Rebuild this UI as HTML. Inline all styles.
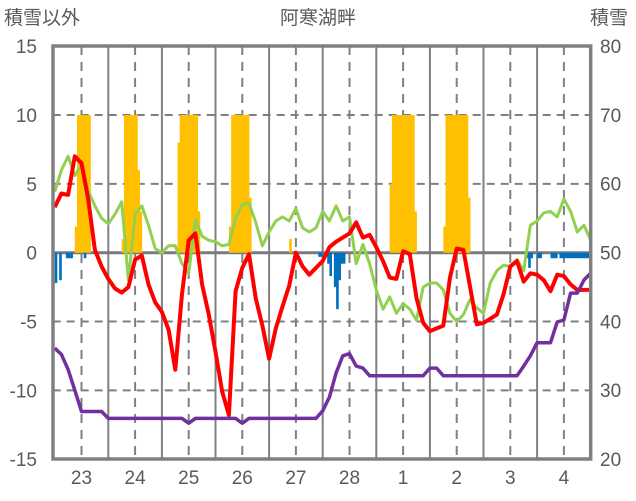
<!DOCTYPE html>
<html><head><meta charset="utf-8"><style>
html,body{margin:0;padding:0;background:#fff;}
svg{display:block;font-family:"Liberation Sans","Noto Sans CJK JP",sans-serif;}
</style></head><body>
<svg id="chart" width="636" height="501" viewBox="0 0 636 501">
<g id="grid"></g>
<g id="bars"></g>
<g id="lines"></g>
<g id="frame"></g>
<g id="labels" fill="#595959" font-size="19"></g>
<text x="42" y="24" text-anchor="middle" fill="#595959" font-size="19">積雪以外</text>
<text x="318" y="24" text-anchor="middle" fill="#595959" font-size="19">阿寒湖畔</text>
<text x="609" y="24" text-anchor="middle" fill="#595959" font-size="19">積雪</text>
</svg>
<script>
const days = ["23","24","25","26","27","28","1","2","3","4"];
const leftTicks = [15,10,5,0,-5,-10,-15];
const rightTicks = [80,70,60,50,40,30,20];
// 3-hourly series (h = 0,3,...,240)
const redVals = [3.3,4.3,4.2,7.0,6.5,3.9,0.2,-1.0,-1.9,-2.6,-2.9,-2.5,-0.5,-0.2,-2.3,-3.6,-4.3,-5.6,-8.5,-3.0,0.9,1.4,-2.3,-4.5,-7.2,-10.1,-11.8,-2.8,-1.1,-0.1,-3.3,-5.3,-7.7,-5.5,-3.9,-2.4,0.0,-1.0,-1.6,-1.1,-0.6,0.4,0.8,1.1,1.4,2.2,1.1,1.3,0.4,-0.6,-1.8,-1.9,0.1,-0.1,-3.3,-5.1,-5.7,-5.5,-5.3,-1.8,0.3,0.2,-2.5,-5.2,-5.1,-4.8,-4.5,-3.0,-1.0,-0.6,-2.1,-1.5,-1.6,-2.0,-2.8,-1.6,-1.7,-2.3,-2.7,-2.7,-2.7];
const greenVals = [4.4,6.0,7.0,5.6,6.4,4.5,3.4,2.5,2.1,2.8,3.7,-2.0,2.8,3.4,2.0,0.3,0.0,0.5,0.5,-0.8,-1.5,2.4,1.2,0.9,0.8,0.5,0.6,2.5,3.5,3.6,2.2,0.5,1.5,2.3,2.6,2.3,3.2,1.8,1.5,1.8,3.0,2.3,3.4,2.3,2.6,-0.8,0.6,-0.8,-2.7,-4.1,-3.2,-4.4,-3.7,-4.1,-4.9,-2.5,-2.2,-2.2,-2.7,-4.4,-5.0,-4.5,-3.4,-4.0,-4.4,-2.2,-1.3,-0.9,-1.0,-0.5,-1.3,2.0,2.3,2.9,3.0,2.6,3.9,3.0,1.5,2.0,0.9];
const snowVals = [36.1,35.2,33.0,30.0,26.9,26.9,26.9,26.9,25.9,25.9,25.9,25.9,25.9,25.9,25.9,25.9,25.9,25.9,25.9,25.9,25.2,25.9,25.9,25.9,25.9,25.9,25.9,25.9,25.2,25.9,25.9,25.9,25.9,25.9,25.9,25.9,25.9,25.9,25.9,25.9,27.0,29.0,32.5,35.0,35.3,33.5,33.2,32.1,32.1,32.1,32.1,32.1,32.1,32.1,32.1,32.1,33.2,33.2,32.1,32.1,32.1,32.1,32.1,32.1,32.1,32.1,32.1,32.1,32.1,32.1,33.5,35.0,36.9,36.9,36.9,39.9,40.2,44.1,44.1,46.0,47.0];
// hourly bars
const yellowHours = [9,10,11,12,13,14,15,30,31,32,33,34,35,36,37,38,55,56,57,58,59,60,61,62,63,64,78,79,80,81,82,83,84,85,86,87,105,150,151,152,153,154,155,156,157,158,159,160,161,174,175,176,177,178,179,180,181,182,183,184,185];
const yellowVals = [1.9,10,10,10,10,10,10,1.0,10,10,10,10,10,10,6.0,3.0,8.0,10,10,10,10,10,10,10,10,3.0,1.9,10,10,10,10,10,10,10,10,4.0,1.0,5.0,10,10,10,10,10,10,10,10,10,10,3.0,1.9,10,10,10,10,10,10,10,10,10,10,4.0];
const blueHours = [0,2,5,6,7,13,118,119,122,123,125,126,127,128,129,211,212,213,216,217,222,223,224,226,227,228,229,230,231,232,233,234,235,236,237,238,239];
const blueVals = [-2.2,-2.0,-0.4,-0.4,-0.4,-0.4,-0.3,-0.3,-0.8,-1.7,-2.5,-4.1,-2.0,-0.8,-0.8,-0.4,-1.1,-0.4,-0.4,-0.4,-0.4,-0.4,-0.4,-0.4,-0.4,-0.4,-0.4,-0.4,-0.4,-0.4,-0.4,-0.4,-0.4,-0.4,-0.4,-0.4,-0.4];

const X0=54.7, DAY=53.6, TOP=46, BOT=459, Y0=252.7;
const xh = h => X0 + h*DAY/24;
const yL = v => Y0 - v*(BOT-TOP)/30;
const yR = s => BOT - (s-20)*(BOT-TOP)/60;
const NS="http://www.w3.org/2000/svg";
function mk(tag, attrs, parent){const e=document.createElementNS(NS,tag);for(const k in attrs)e.setAttribute(k,attrs[k]);parent.appendChild(e);return e;}
const grid=document.getElementById('grid'), bars=document.getElementById('bars'), lines=document.getElementById('lines'), frame=document.getElementById('frame'), labels=document.getElementById('labels');

leftTicks.forEach((v,i)=>{
  if(v!==0 && i>0 && i<leftTicks.length-1){
    const l=mk('line',{x1:X0-2,x2:590.7,y1:yL(v),y2:yL(v),stroke:'#808080','stroke-width':2,'stroke-dasharray':'8,6'},grid);
    
    
  }
  const t=mk('text',{x:37,y:yL(v)+7,'text-anchor':'end'},labels);
  t.textContent=v;
  
  
});
rightTicks.forEach(s=>{
  const t=mk('text',{x:600,y:yR(s)+7,'text-anchor':'start'},labels);
  t.textContent=s;
  
  
});
days.forEach((d,i)=>{
  const xc=X0+DAY*(i+0.5);
  const dl=mk('line',{x1:xc,x2:xc,y1:TOP,y2:BOT,stroke:'#808080','stroke-width':2,'stroke-dasharray':'9,7'},grid);
  
  
  if(i>0){
    const sl=mk('line',{x1:X0+DAY*i,x2:X0+DAY*i,y1:TOP,y2:BOT,stroke:'#808080','stroke-width':2},grid);
    
    
  }
  const t=mk('text',{x:xc,y:484,'text-anchor':'middle'},labels);
  t.textContent=d;
  
  
});

yellowHours.forEach((h,i)=>{
  const v=Math.min(yellowVals[i],10);
  const r=mk('rect',{x:xh(h),y:yL(v),width:DAY/24+0.4,height:Y0-yL(v),fill:'#FFC000'},bars);
  
  
});
blueHours.forEach((h,i)=>{
  const v=blueVals[i];
  const r=mk('rect',{x:xh(h),y:Y0,width:DAY/24+0.4,height:yL(v)-Y0,fill:'#0070C0'},bars);
  
  
});
const zl=mk('line',{x1:X0-2,x2:590.7,y1:Y0,y2:Y0,stroke:'#7a7a7a','stroke-width':3},grid);



function path(vals, yf){return vals.map((v,i)=>(i?'L':'M')+xh(i*3).toFixed(1)+','+yf(v).toFixed(1)).join(' ');}
const g=mk('path',{d:path(greenVals,yL),fill:'none',stroke:'#92D050','stroke-width':3,'stroke-linejoin':'round'},lines);


const r=mk('path',{d:path(redVals,yL),fill:'none',stroke:'#FF0000','stroke-width':4,'stroke-linejoin':'round'},lines);


const p=mk('path',{d:path(snowVals,yR),fill:'none',stroke:'#7030A0','stroke-width':3.5,'stroke-linejoin':'round'},lines);



const fr=mk('rect',{x:53,y:TOP,width:537.7,height:BOT-TOP,fill:'none',stroke:'#808080','stroke-width':3.5},frame);


</script>
</body></html>
